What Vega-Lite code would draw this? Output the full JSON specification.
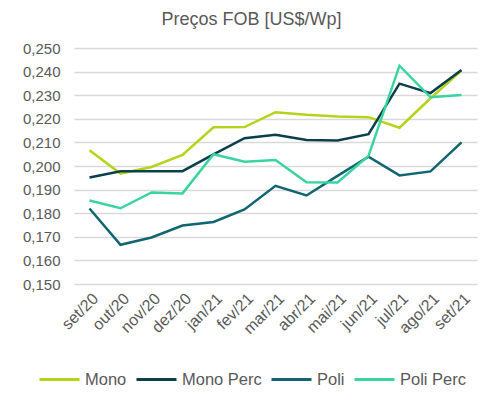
{
  "$schema": "https://vega.github.io/schema/vega-lite/v6.json",
  "width": 403,
  "height": 236,
  "autosize": {"type": "none"},
  "padding": {"left": 74, "top": 48, "right": 20, "bottom": 113},
  "title": {"text": "Preços FOB [US$/Wp]", "font": "Liberation Sans", "fontSize": 18, "fontWeight": "normal", "color": "#595959", "anchor": "middle", "offset": 12, "dx": -24},
  "config": {
    "view": {"stroke": null},
    "font": "Liberation Sans"
  },
  "data": {"values": [
    {"m": "set/20", "s": "Mono", "v": 0.2067}, {"m": "out/20", "s": "Mono", "v": 0.1968}, {"m": "nov/20", "s": "Mono", "v": 0.1996}, {"m": "dez/20", "s": "Mono", "v": 0.2047}, {"m": "jan/21", "s": "Mono", "v": 0.2164}, {"m": "fev/21", "s": "Mono", "v": 0.2165}, {"m": "mar/21", "s": "Mono", "v": 0.2228}, {"m": "abr/21", "s": "Mono", "v": 0.2217}, {"m": "mai/21", "s": "Mono", "v": 0.221}, {"m": "jun/21", "s": "Mono", "v": 0.2207}, {"m": "jul/21", "s": "Mono", "v": 0.2162}, {"m": "ago/21", "s": "Mono", "v": 0.2287}, {"m": "set/21", "s": "Mono", "v": 0.2404},
    {"m": "set/20", "s": "Mono Perc", "v": 0.1951}, {"m": "out/20", "s": "Mono Perc", "v": 0.1978}, {"m": "nov/20", "s": "Mono Perc", "v": 0.1978}, {"m": "dez/20", "s": "Mono Perc", "v": 0.1978}, {"m": "jan/21", "s": "Mono Perc", "v": 0.2049}, {"m": "fev/21", "s": "Mono Perc", "v": 0.2118}, {"m": "mar/21", "s": "Mono Perc", "v": 0.2132}, {"m": "abr/21", "s": "Mono Perc", "v": 0.211}, {"m": "mai/21", "s": "Mono Perc", "v": 0.2108}, {"m": "jun/21", "s": "Mono Perc", "v": 0.2135}, {"m": "jul/21", "s": "Mono Perc", "v": 0.2349}, {"m": "ago/21", "s": "Mono Perc", "v": 0.2309}, {"m": "set/21", "s": "Mono Perc", "v": 0.2407},
    {"m": "set/20", "s": "Poli", "v": 0.182}, {"m": "out/20", "s": "Poli", "v": 0.1666}, {"m": "nov/20", "s": "Poli", "v": 0.1697}, {"m": "dez/20", "s": "Poli", "v": 0.1748}, {"m": "jan/21", "s": "Poli", "v": 0.1763}, {"m": "fev/21", "s": "Poli", "v": 0.1816}, {"m": "mar/21", "s": "Poli", "v": 0.1916}, {"m": "abr/21", "s": "Poli", "v": 0.1875}, {"m": "mai/21", "s": "Poli", "v": 0.1958}, {"m": "jun/21", "s": "Poli", "v": 0.2039}, {"m": "jul/21", "s": "Poli", "v": 0.196}, {"m": "ago/21", "s": "Poli", "v": 0.1977}, {"m": "set/21", "s": "Poli", "v": 0.21},
    {"m": "set/20", "s": "Poli Perc", "v": 0.1854}, {"m": "out/20", "s": "Poli Perc", "v": 0.1821}, {"m": "nov/20", "s": "Poli Perc", "v": 0.1888}, {"m": "dez/20", "s": "Poli Perc", "v": 0.1884}, {"m": "jan/21", "s": "Poli Perc", "v": 0.205}, {"m": "fev/21", "s": "Poli Perc", "v": 0.2018}, {"m": "mar/21", "s": "Poli Perc", "v": 0.2025}, {"m": "abr/21", "s": "Poli Perc", "v": 0.1931}, {"m": "mai/21", "s": "Poli Perc", "v": 0.193}, {"m": "jun/21", "s": "Poli Perc", "v": 0.2043}, {"m": "jul/21", "s": "Poli Perc", "v": 0.2425}, {"m": "ago/21", "s": "Poli Perc", "v": 0.2291}, {"m": "set/21", "s": "Poli Perc", "v": 0.2301}
  ]},
  "mark": {"type": "line", "strokeWidth": 2.5},
  "encoding": {
    "x": {
      "field": "m", "type": "ordinal", "sort": null,
      "scale": {"type": "point", "padding": 0.5},
      "axis": {"title": null, "labelAngle": -45, "labelFontSize": 16, "labelColor": "#595959", "domain": false, "ticks": false, "labelPadding": 6, "grid": false}
    },
    "y": {
      "field": "v", "type": "quantitative",
      "scale": {"domain": [0.15, 0.25], "nice": false, "zero": false},
      "axis": {"title": null, "values": [0.15, 0.16, 0.17, 0.18, 0.19, 0.2, 0.21, 0.22, 0.23, 0.24, 0.25], "labelExpr": "replace(format(datum.value, '.3f'), '.', ',')", "labelFontSize": 15, "labelColor": "#595959", "domain": false, "ticks": false, "labelPadding": 14, "gridColor": "#d9d9d9", "gridWidth": 1.5}
    },
    "color": {
      "field": "s", "type": "nominal",
      "scale": {"domain": ["Mono", "Mono Perc", "Poli", "Poli Perc"], "range": ["#b4d41c", "#0b3f4c", "#0f6670", "#3ad4a0"]},
      "legend": {"title": null, "orient": "none", "direction": "horizontal", "legendX": -36, "legendY": 310, "symbolType": "stroke", "symbolSize": 1600, "symbolStrokeWidth": 3, "labelFontSize": 16.5, "labelColor": "#595959", "labelOffset": 4, "columnPadding": 3, "labelLimit": 200}
    }
  }
}
